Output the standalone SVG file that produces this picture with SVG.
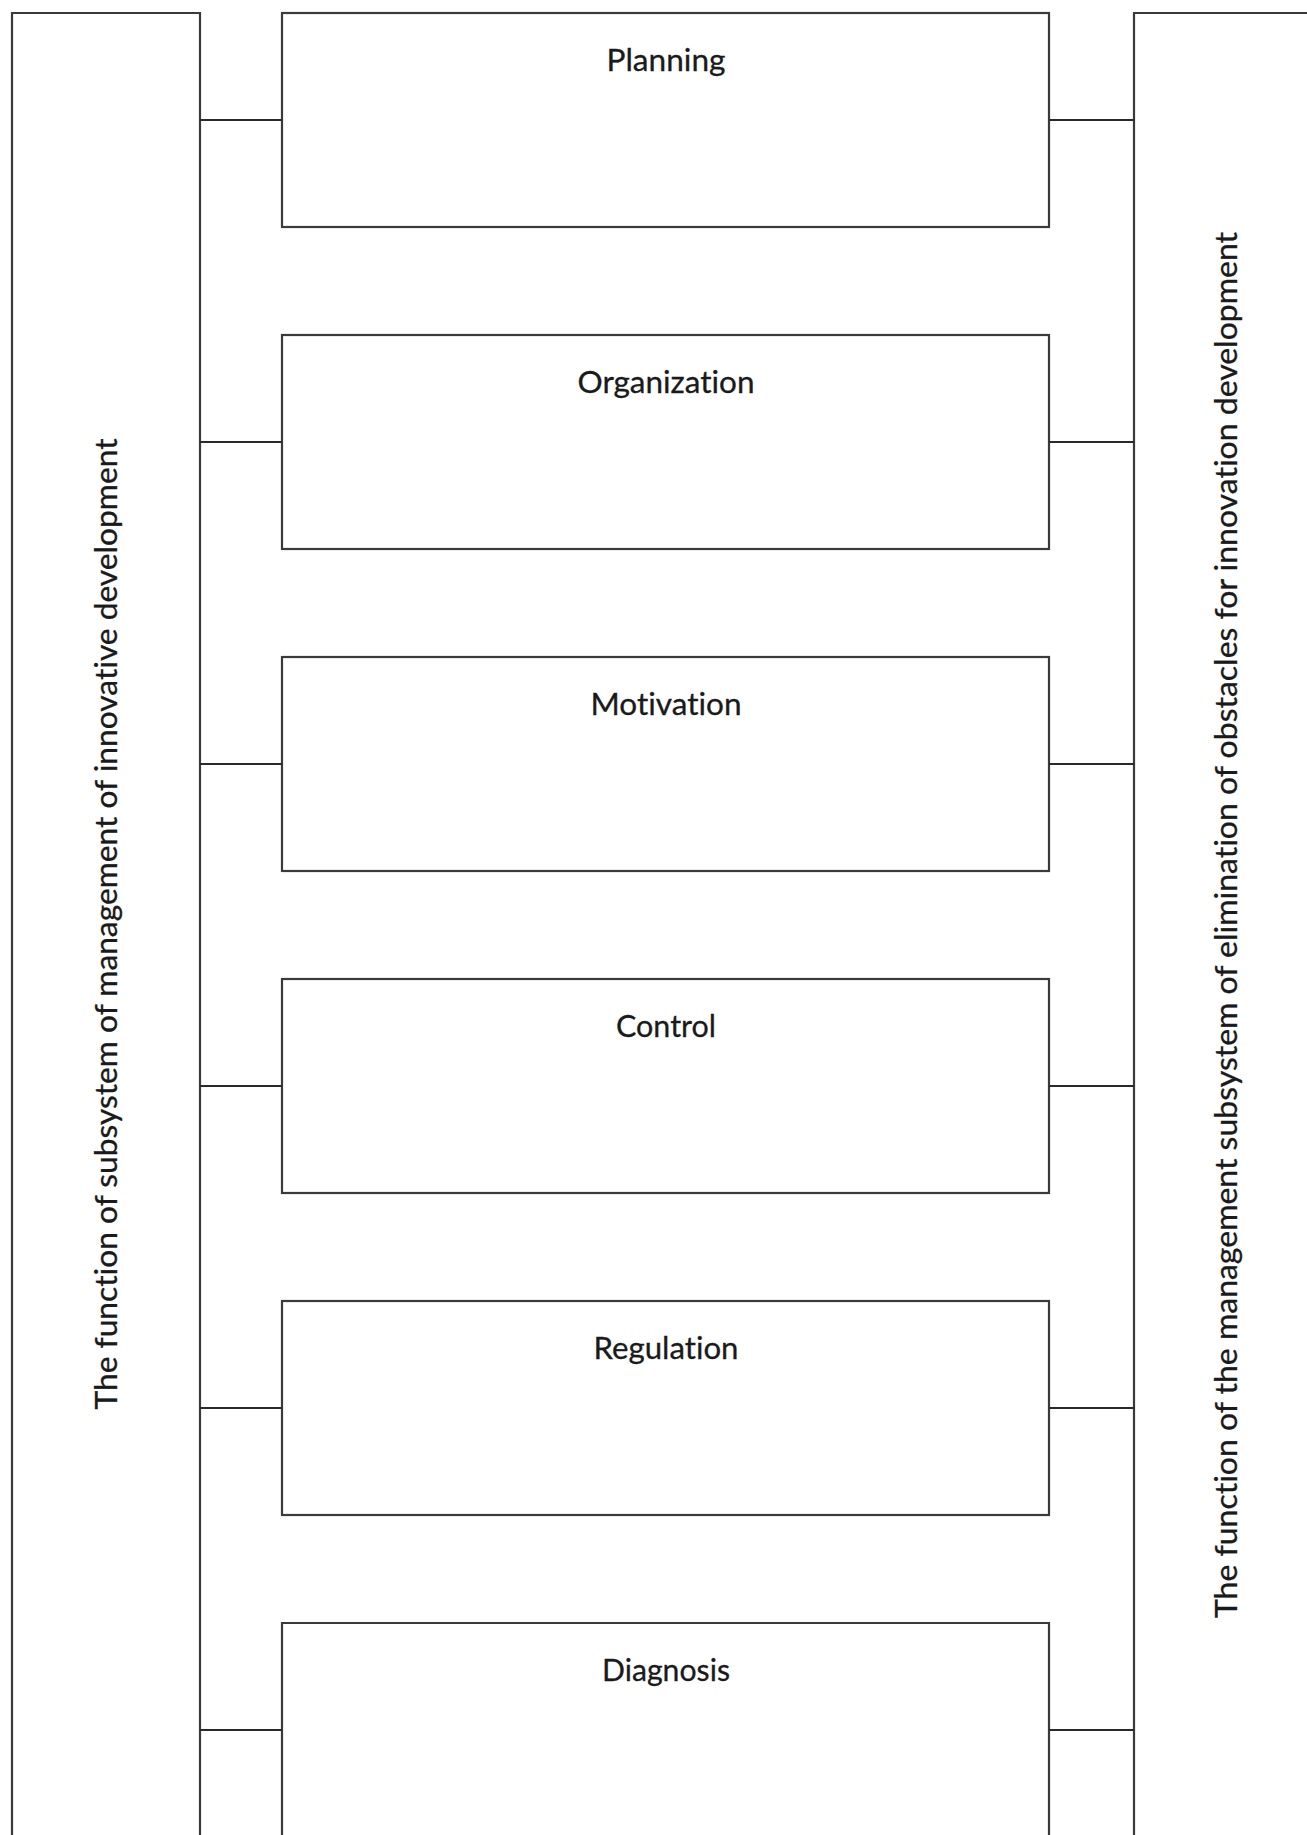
<svg xmlns="http://www.w3.org/2000/svg" width="1307" height="1835" viewBox="0 0 1307 1835">
<style>
.shape{fill:none;stroke:#3a3a3a;stroke-width:2.2}
.conn{fill:none;stroke:#2a2a2a;stroke-width:2}
text{font-family:Lato,"Liberation Sans",sans-serif;fill:#1a1a1a;text-anchor:middle;font-variant-ligatures:none;font-feature-settings:"liga" 0,"clig" 0,"dlig" 0,"calt" 0;stroke:#1a1a1a;stroke-width:0.3}
.lbl{font-size:31px}
.vlbl{font-size:30px}
</style>
<rect width="1307" height="1835" fill="#fff"/>
<g id="left-panel">
<path class="shape" d="M12,1840 V13 H200 V1840"/>
<text class="vlbl" transform="translate(117,924) rotate(-90)" textLength="971" lengthAdjust="spacingAndGlyphs">The function of subsystem of management of innovative development</text>
</g>
<g id="right-panel">
<path class="shape" d="M1310,13 H1134 V1840"/>
<text class="vlbl" transform="translate(1237,925) rotate(-90)" textLength="1386" lengthAdjust="spacingAndGlyphs">The function of the management subsystem of elimination of obstacles for innovation development</text>
</g>
<g id="planning">
<rect class="shape" x="282" y="13" width="767" height="214"/>
<text class="lbl" x="666" y="71" textLength="119" lengthAdjust="spacingAndGlyphs">Planning</text>
</g>
<g id="organization">
<rect class="shape" x="282" y="335" width="767" height="214"/>
<text class="lbl" x="666" y="393" textLength="177" lengthAdjust="spacingAndGlyphs">Organization</text>
</g>
<g id="motivation">
<rect class="shape" x="282" y="657" width="767" height="214"/>
<text class="lbl" x="666" y="715" textLength="151" lengthAdjust="spacingAndGlyphs">Motivation</text>
</g>
<g id="control">
<rect class="shape" x="282" y="979" width="767" height="214"/>
<text class="lbl" x="666" y="1037" textLength="100" lengthAdjust="spacingAndGlyphs">Control</text>
</g>
<g id="regulation">
<rect class="shape" x="282" y="1301" width="767" height="214"/>
<text class="lbl" x="666" y="1359" textLength="145" lengthAdjust="spacingAndGlyphs">Regulation</text>
</g>
<g id="diagnosis">
<path class="shape" d="M282,1840 V1623 H1049 V1840"/>
<text class="lbl" x="666" y="1681" textLength="128" lengthAdjust="spacingAndGlyphs">Diagnosis</text>
</g>
<g id="connectors">
<path class="conn" d="M200,120 H282 M1049,120 H1134"/>
<path class="conn" d="M200,442 H282 M1049,442 H1134"/>
<path class="conn" d="M200,764 H282 M1049,764 H1134"/>
<path class="conn" d="M200,1086 H282 M1049,1086 H1134"/>
<path class="conn" d="M200,1408 H282 M1049,1408 H1134"/>
<path class="conn" d="M200,1730 H282 M1049,1730 H1134"/>
</g>
</svg>
